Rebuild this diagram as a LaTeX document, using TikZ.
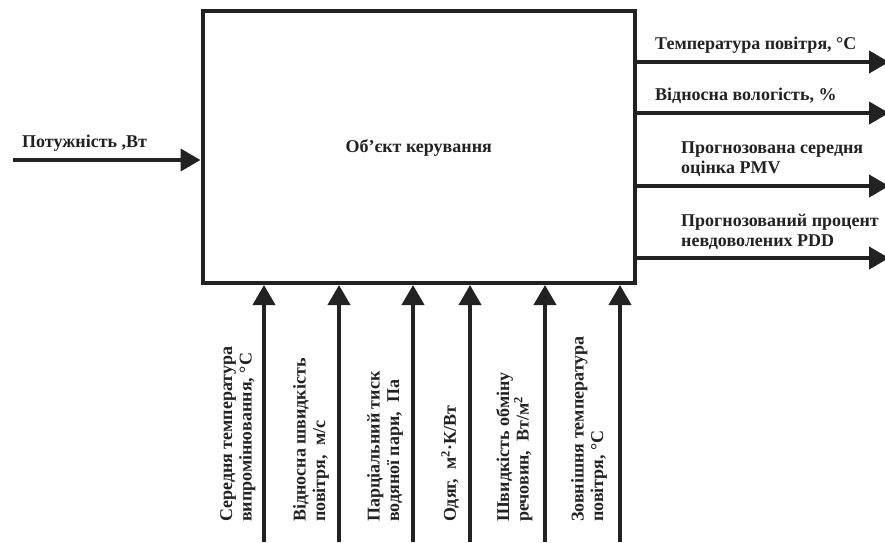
\documentclass[tikz,border=0pt]{standalone}
\usepackage{fontspec}
\setmainfont{Liberation Serif}
\usetikzlibrary{arrows.meta}
\definecolor{ink}{HTML}{222222}
\tikzset{
  lbl/.style={font=\bfseries\fontsize{18}{19.5}\selectfont, text=ink, inner sep=0pt, align=left},
  vlbl/.style={lbl, rotate=90, anchor=north west},
  flow/.style={draw=ink, line width=4pt, -{Triangle[length=20pt,width=22pt]}},
  objbox/.style={draw=ink, line width=4pt, inner sep=0pt, minimum width=432.5pt, minimum height=272pt}
}
\begin{document}
\begin{tikzpicture}[x=1pt, y=-1pt]
  % canvas
  \fill[white] (0,0) rectangle (885,542);
  \useasboundingbox (0,0) rectangle (885,542);

  % controlled object
  \node[objbox] (obj) at (418.75,147) {};
  \node[lbl, anchor=base] (objtxt) at (418.75,152) {Об’єкт керування};

  % control input
  \coordinate (pin) at (13,160);
  \node[lbl, anchor=base west] (pintxt) at (22,147) {Потужність ,Вт};
  \draw[flow] (pin) -- (pin -| obj.west);

  % outputs
  \coordinate (o1) at (889,62);
  \coordinate (o2) at (889,113);
  \coordinate (o3) at (889,186);
  \coordinate (o4) at (889,258);
  \draw[flow] (o1 -| obj.east) -- (o1);
  \draw[flow] (o2 -| obj.east) -- (o2);
  \draw[flow] (o3 -| obj.east) -- (o3);
  \draw[flow] (o4 -| obj.east) -- (o4);
  \node[lbl, anchor=base west] (t1) at (655,49) {Температура повітря, °C};
  \node[lbl, anchor=base west] (t2) at (655,100) {Відносна вологість, \%};
  \node[lbl, anchor=north west] (t3) at (681,142) {Прогнозована середня\\оцінка PMV};
  \node[lbl, anchor=north west] (t4) at (681,214) {Прогнозований процент\\невдоволених PDD};

  % disturbances
  \foreach \i/\x in {1/264, 2/339, 3/413, 4/470, 5/545, 6/620} {
    \coordinate (b\i) at (\x,542);
    \draw[flow] (b\i) -- (b\i |- obj.south);
  }
  \node[vlbl] (d1) at (220,522) {Середня температура\\випромінювання, °С};
  \node[vlbl] (d2) at (293,522) {Відносна швидкість\\повітря,~ м/с};
  \node[vlbl] (d3) at (367,522) {Парціальний тиск\\водяної пари,~ Па};
  \node[vlbl] (d4) at (441,522) {Одяг,~ м\textsuperscript{2}·К/Вт};
  \node[vlbl] (d5) at (496,522) {Швидкість обміну\\речовин,~ Вт/м\textsuperscript{2}};
  \node[vlbl] (d6) at (571,522) {Зовнішня температура\\повітря, °С};
\end{tikzpicture}
\end{document}
